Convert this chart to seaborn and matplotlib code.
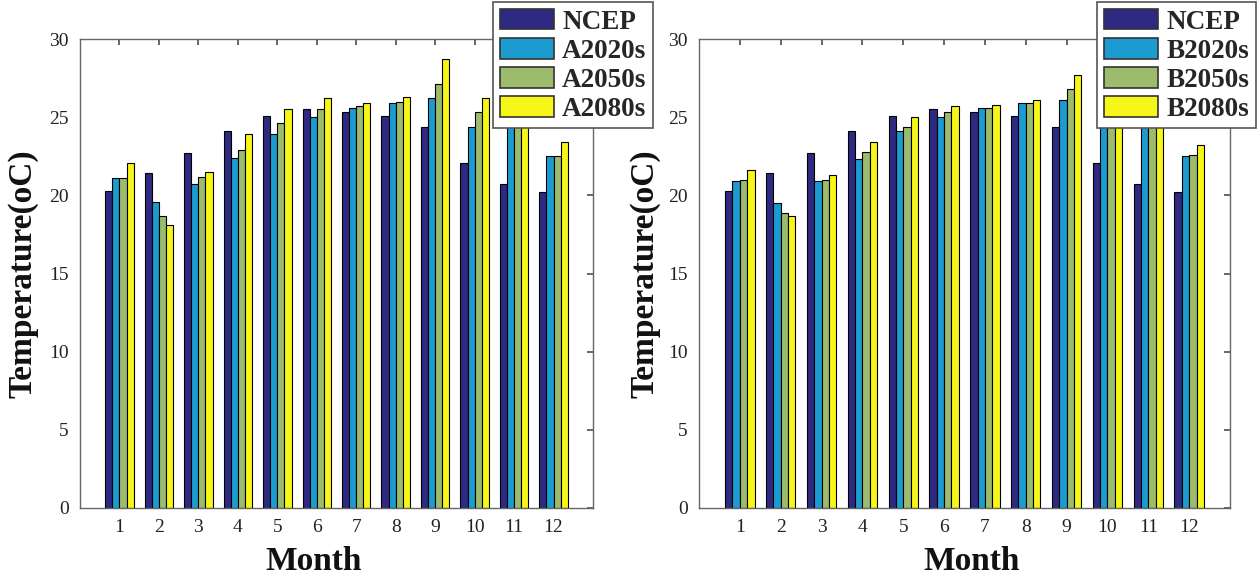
import numpy as np
import pandas as pd
import matplotlib
matplotlib.use("Agg")
import matplotlib.pyplot as plt
import seaborn as sns

months = ["1", "2", "3", "4", "5", "6", "7", "8", "9", "10", "11", "12"]

ncep = [20.3, 21.4, 22.7, 24.1, 25.1, 25.5, 25.3, 25.1, 24.4, 22.1, 20.7, 20.2]

a2020s = [21.1, 19.6, 20.7, 22.4, 23.9, 25.0, 25.6, 25.9, 26.2, 24.4, 25.2, 22.5]
a2050s = [21.1, 18.7, 21.2, 22.9, 24.6, 25.5, 25.7, 26.0, 27.1, 25.3, 25.9, 22.5]
a2080s = [22.1, 18.1, 21.5, 23.9, 25.5, 26.2, 25.9, 26.3, 28.7, 26.2, 26.6, 23.4]

b2020s = [20.9, 19.5, 20.9, 22.3, 24.1, 25.0, 25.6, 25.9, 26.1, 24.6, 24.9, 22.5]
b2050s = [21.0, 18.9, 21.0, 22.8, 24.4, 25.3, 25.6, 25.9, 26.8, 25.0, 25.3, 22.6]
b2080s = [21.6, 18.7, 21.3, 23.4, 25.0, 25.7, 25.8, 26.1, 27.7, 25.5, 25.8, 23.2]

a_labels = ["NCEP", "A2020s", "A2050s", "A2080s"]
b_labels = ["NCEP", "B2020s", "B2050s", "B2080s"]
colors = ["#2e2a82", "#1c9bd0", "#9dbb6c", "#f6f618"]

yticks = [0, 5, 10, 15, 20, 25, 30]


def long_df(series, labels):
    rows = []
    for vals, lab in zip(series, labels):
        for m, v in zip(months, vals):
            rows.append({"Month": m, "Scenario": lab, "Temp": v})
    return pd.DataFrame(rows)


sns.set_theme(style="white")
plt.rcParams["font.family"] = ["Liberation Serif", "DejaVu Serif"]

W, H = 1257, 575
fig = plt.figure(figsize=(W / 100, H / 100), dpi=100)

ax1 = fig.add_axes([80 / W, 1 - 508 / H, (593 - 80) / W, (508 - 39) / H])
ax2 = fig.add_axes([699 / W, 1 - 508 / H, (1230 - 699) / W, (508 - 39) / H])

panels = [
    (ax1, [ncep, a2020s, a2050s, a2080s], a_labels, "upper left", 493, 0.456, -0.080),
    (ax2, [ncep, b2020s, b2050s, b2080s], b_labels, "upper right", 1256, 0.513, -0.072),
]

for ax, series, labels, leg_loc, leg_x, xlab_x, ylab_x in panels:
    df = long_df(series, labels)
    sns.barplot(
        data=df, x="Month", y="Temp", hue="Scenario",
        order=months, hue_order=labels, palette=colors,
        width=0.72, edgecolor="black", linewidth=0.8,
        saturation=1, ax=ax, errorbar=None,
    )
    ax.set_xlim(-1, 12)
    ax.set_ylim(0, 30)
    ax.set_yticks(yticks)
    ax.set_yticklabels([str(t) for t in yticks])
    ax.tick_params(axis="both", which="both", direction="in", length=4,
                   top=True, right=True, labelsize=14, colors="#555555",
                   labelcolor="#222222", pad=8)
    for sp in ax.spines.values():
        sp.set_color("#666666")
        sp.set_linewidth(1.0)
    ax.set_xlabel("Month", fontsize=24, fontweight="bold", color="#111111")
    ax.set_ylabel("Temperature(oC)", fontsize=24, fontweight="bold", color="#111111")
    ax.xaxis.set_label_coords(xlab_x, -0.082)
    ax.yaxis.set_label_coords(ylab_x, 0.5)

    handles, labs = ax.get_legend_handles_labels()
    leg = ax.legend(
        handles, labs, loc=leg_loc,
        bbox_to_anchor=(leg_x / W, 1 - 2 / H), bbox_transform=fig.transFigure,
        borderaxespad=0, frameon=True, fancybox=False, framealpha=1,
        edgecolor="#555555",
        prop={"family": "Liberation Serif", "weight": "bold", "size": 19.5},
        handlelength=2.0, handleheight=0.8, labelspacing=0.12, handletextpad=0.3,
        borderpad=0.25,
    )
    leg.get_frame().set_linewidth(1.2)
    leg.set_zorder(10)
    for h in leg.legend_handles:
        h.set_edgecolor("#333333")
        h.set_linewidth(1.2)

fig.savefig("out.png", dpi=100)
